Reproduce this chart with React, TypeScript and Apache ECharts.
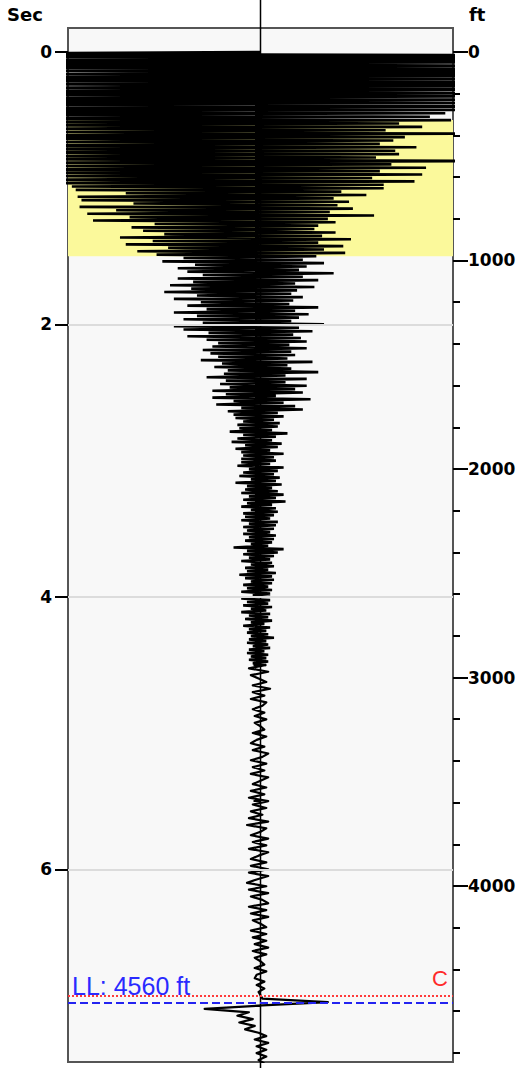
import React, { useEffect, useRef } from "react";
import * as echarts from "echarts";

// ---- axis values ----
const SEC_RANGE = [-0.176, 7.415];
const FT_RANGE = [-115, 4844];
const SEC_LABELS = [0, 2, 4, 6];
const SEC_TICKS = [0, 0.5, 1, 1.5, 2, 2.5, 3, 3.5, 4, 4.5, 5, 5.5, 6, 6.5, 7];
const FT_LABELS = [0, 1000, 2000, 3000, 4000];
const FT_TICKS = [0, 200, 400, 600, 800, 1000, 1200, 1400, 1600, 1800, 2000, 2200, 2400, 2600, 2800, 3000, 3200, 3400, 3600, 3800, 4000, 4200, 4400, 4600, 4800];
const SEC_GRID = [2, 4, 6];
const HIGHLIGHT_SEC = [0.5, 1.5];
const ZERO_LINE_SEC = [-0.382, 7.46];
const LL_FT = 4560;
const C_SEC = 6.93;

// ---- trace: upper part sampled every 0.0125 s (0 - 4.4875 s) ----
const DT_FINE = 0.0125;
const AMPLITUDE_UPPER = [
  // 0.00 - 0.25
  0, -180, 150, -170, 190, -140, 160, -200, 130, -165, 175, -150, 185, -130, 160, -190, 140, -170, 155, -145,
  // 0.25 - 0.50
  170, -160, 145, -185, 130, -150, 165, -175, 140, -160, 120, -190, 150, -135, 110, -170, 96, -150, 88, -140,
  // 0.50 - 0.75
  99, -130, 72, -150, 84, -110, 65, -140, 110, -125, 75, -160, 69, -105, 62, -135, 81, -120, 70, -145,
  // 0.75 - 1.00
  72, -115, 60, -150, 120, -108, 68, -130, 86, -118, 62, -140, 84, -104, 58, -125, 80, -112, 64, -98,
  // 1.00 - 1.25
  64, -96, 42, -70, 55, -95, 38, -93, 46, -66, 40, -94, 48, -75, 36, -90, 59, -68, 35, -87,
  // 1.25 - 1.50
  39, -55, 30, -67, 28, -61, 39, -50, 32, -73, 47, -56, 30, -70, 43, -48, 33, -64, 44, -54,
  // 1.50 - 1.75
  29, -40, 22, -51, 33, -34, 24, -43, 20, -38, 38, -30, 22, -43, 30, -35, 18, -47, 28, -36,
  // 1.75 - 2.00
  19, -50, 16, -33, 22, -45, 17, -31, 15, -38, 30, -28, 18, -45, 25, -33, 20, -40, 16, -30,
  // 2.00 - 2.25
  33, -45, 20, -40, 27, -27, 17, -38, 21, -28, 24, -22, 15, -25, 24, -30, 16, -26, 18, -22,
  // 2.25 - 2.50
  14, -31, 27, -20, 14, -24, 16, -17, 30, -19, 13, -28, 24, -18, 13, -21, 24, -16, 18, -25,
  // 2.50 - 2.75
  22, -18, 8, -25, 26, -14, 12, -23, 18, -10, 22, -17, 9, -14, 12, -13, 7, -9, 10, -12,
  // 2.75 - 3.00
  9, -11, 6, -16, 14, -9, 8, -12, 6, -15, 11, -8, 9, -13, 5, -10, 12, -9, 7, -10,
  // 3.00 - 3.25
  8, -10, 5, -12, 12, -6, 9, -9, 7, -11, 10, -5, 8, -13, 11, -7, 6, -8, 9, -10,
  // 3.25 - 3.50
  12, -6, 8, -9, 13, -7, 6, -10, 8, -5, 9, -9, 7, -8, 5, -10, 9, -6, 8, -9,
  // 3.50 - 3.75
  7, -7, 5, -9, 8, -6, 7, -8, 6, -5, 4, -14, 12, -7, 9, -9, 7, -6, 5, -10,
  // 3.75 - 4.00
  6, -5, 7, -8, 4, -7, 8, -11, 6, -8, 7, -5, 6, -9, 4, -7, 6, -10, 5, -4,
  // 4.00 - 4.25
  5, -10, 5, -7, 4, -9, 6, -5, 3, -10, 5, -6, 4, -8, 6, -5, 2, -9, 5, -6,
  // 4.25 - 4.50
  3, -7, 4, -5, 7, -6, 3, -7, 4, -4, 5, -6, 2, -7, 4, -5, 3, -6, 4, -4,
];

// ---- trace: lower part sampled every 0.025 s (4.500 - 7.425 s) ----
const DT = 0.025;
const AMPLITUDE_LOWER = [
  // 4.500 - 4.975
  3, -6, 4, -5, -1, 3, -4, 5, -4, 2, -5, 3, 1, -4, 2, -3, 3, -3, 0, 2,
  // 5.000 - 5.475
  -4, 3, -2, -5, 2, -4, 4, 1, -5, 3, -4, 2, -5, 4, 0, -4, 3, -5, 2, -6,
  // 5.500 - 5.975
  4, -4, 3, -5, 1, -6, 4, -7, 3, 0, -5, 4, -4, 3, -6, 4, -1, -5, 3, -5,
  // 6.000 - 6.475
  4, -6, 4, -2, -7, 3, -6, 4, -5, 1, 4, -6, 3, -5, 4, -4, 0, 3, -5, 3,
  // 6.500 - 6.925
  -4, 3, -3, 4, -4, 3, -3, 0, 2, -3, 3, -2, -3, 2, -2, 2, -1, 0,
  // 6.950 - 7.425
  1, 35, 1, -29, -6, -12, -4, -11, -3, -8, -1, 3, -3, 4, -2, 3, -2, 3, -1, 2,
];

const FONT = "'Liberation Sans', Arial, sans-serif";
const TICK_FONT = "'DejaVu Sans', 'Liberation Sans', sans-serif";

export default function App() {
  const ref = useRef<HTMLDivElement>(null);

  useEffect(() => {
    if (!ref.current) return;
    const chart = echarts.init(ref.current, null, { renderer: "svg" });

    const lowerStart = AMPLITUDE_UPPER.length * DT_FINE;
    const upperPoints = AMPLITUDE_UPPER.map((a, i) => [a, +(i * DT_FINE).toFixed(4)]);
    const lowerPoints = AMPLITUDE_LOWER.map((a, i) => [a, +(lowerStart + i * DT).toFixed(4)]);

    const tickLabel = {
      color: "#000",
      fontFamily: TICK_FONT,
      fontWeight: "bold" as const,
      fontSize: 17,
    };

    chart.setOption({
      animation: false,
      backgroundColor: "#ffffff",
      grid: {
        left: 68,
        top: 28,
        width: 385,
        height: 1034,
        show: true,
        backgroundColor: "#f8f8f8",
        borderColor: "#555",
        borderWidth: 2,
      },
      xAxis: { type: "value", min: -100, max: 100, show: false },
      yAxis: [
        {
          type: "value",
          inverse: true,
          min: SEC_RANGE[0],
          max: SEC_RANGE[1],
          position: "left",
          offset: 0,
          axisLine: { show: false },
          axisTick: { show: true, customValues: SEC_TICKS, length: 7, lineStyle: { color: "#000", width: 2 } },
          axisLabel: { show: true, customValues: SEC_LABELS, margin: 16, ...tickLabel },
          splitLine: { show: false },
        },
        {
          type: "value",
          inverse: true,
          min: FT_RANGE[0],
          max: FT_RANGE[1],
          position: "right",
          offset: 0,
          axisLine: { show: false },
          axisTick: { show: true, customValues: FT_TICKS, length: 7, lineStyle: { color: "#000", width: 2 } },
          axisLabel: {
            show: true,
            customValues: FT_LABELS,
            margin: 15,
            formatter: (v: number) => String(v),
            ...tickLabel,
          },
          splitLine: { show: false },
        },
        {
          type: "value",
          inverse: true,
          min: SEC_RANGE[0],
          max: SEC_RANGE[1],
          position: "left",
          offset: 0,
          axisLine: { show: false },
          axisTick: { show: true, customValues: SEC_LABELS, length: 13, lineStyle: { color: "#000", width: 2 } },
          axisLabel: { show: false },
          splitLine: { show: false },
        },
        {
          type: "value",
          inverse: true,
          min: FT_RANGE[0],
          max: FT_RANGE[1],
          position: "right",
          offset: 0,
          axisLine: { show: false },
          axisTick: { show: true, customValues: FT_LABELS, length: 15, lineStyle: { color: "#000", width: 2 } },
          axisLabel: { show: false },
          splitLine: { show: false },
        },
      ],
      graphic: [
        { type: "text", left: 7, top: 5, style: { text: "Sec", font: `bold 18px ${TICK_FONT}`, fill: "#000" } },
        { type: "text", left: 469, top: 5, style: { text: "ft", font: `bold 18px ${TICK_FONT}`, fill: "#000" } },
      ],
      series: [
        {
          name: "background",
          type: "line",
          xAxisIndex: 0,
          yAxisIndex: 0,
          z: 1,
          data: [[0, 0]],
          showSymbol: false,
          lineStyle: { opacity: 0 },
          silent: true,
          markArea: {
            silent: true,
            itemStyle: { color: "#fbf99b" },
            data: [[{ yAxis: HIGHLIGHT_SEC[0] }, { yAxis: HIGHLIGHT_SEC[1] }]],
          },
          markLine: {
            silent: true,
            symbol: ["none", "none"],
            label: { show: false },
            lineStyle: { color: "#dcdcdc", width: 2, type: "solid" },
            data: SEC_GRID.map((v) => ({ yAxis: v })),
          },
        },
        {
          name: "zero",
          type: "line",
          xAxisIndex: 0,
          yAxisIndex: 0,
          z: 2,
          clip: false,
          data: ZERO_LINE_SEC.map((s) => [0, s]),
          showSymbol: false,
          silent: true,
          lineStyle: { color: "#000", width: 1.5 },
        },
        {
          name: "trace-upper",
          type: "line",
          xAxisIndex: 0,
          yAxisIndex: 0,
          z: 3,
          clip: true,
          data: [...upperPoints, lowerPoints[0]],
          showSymbol: false,
          silent: true,
          lineStyle: { color: "#000", width: 2.6, join: "bevel" },
        },
        {
          name: "trace-lower",
          type: "line",
          xAxisIndex: 0,
          yAxisIndex: 0,
          z: 3,
          clip: true,
          data: lowerPoints,
          showSymbol: false,
          silent: true,
          lineStyle: { color: "#000", width: 2.2, join: "round" },
        },
        {
          name: "C",
          type: "line",
          xAxisIndex: 0,
          yAxisIndex: 0,
          z: 6,
          data: [[0, C_SEC]],
          showSymbol: false,
          lineStyle: { opacity: 0 },
          silent: true,
          markLine: {
            silent: true,
            symbol: ["none", "none"],
            lineStyle: { color: "#ff3b3b", width: 2, type: "dotted" },
            label: {
              show: true,
              position: "insideEndTop",
              formatter: "C",
              color: "#ff2a2a",
              fontFamily: FONT,
              fontSize: 22,
              distance: [5, 6],
            },
            data: [{ yAxis: C_SEC }],
          },
        },
        {
          name: "LL",
          type: "line",
          xAxisIndex: 0,
          yAxisIndex: 1,
          z: 6,
          data: [[0, LL_FT]],
          showSymbol: false,
          lineStyle: { opacity: 0 },
          silent: true,
          markLine: {
            silent: true,
            symbol: ["none", "none"],
            lineStyle: { color: "#2323f0", width: 2, type: "dashed" },
            label: {
              show: true,
              position: "insideStartTop",
              formatter: `LL: ${LL_FT} ft`,
              color: "#2a2aff",
              fontFamily: FONT,
              fontSize: 25,
              distance: [4, 4],
            },
            data: [{ yAxis: LL_FT }],
          },
        },
      ],
    });

    return () => chart.dispose();
  }, []);

  return (
    <div
      ref={ref}
      style={{ position: "absolute", left: 0, top: 0, width: 520, height: 1068 }}
    />
  );
}
